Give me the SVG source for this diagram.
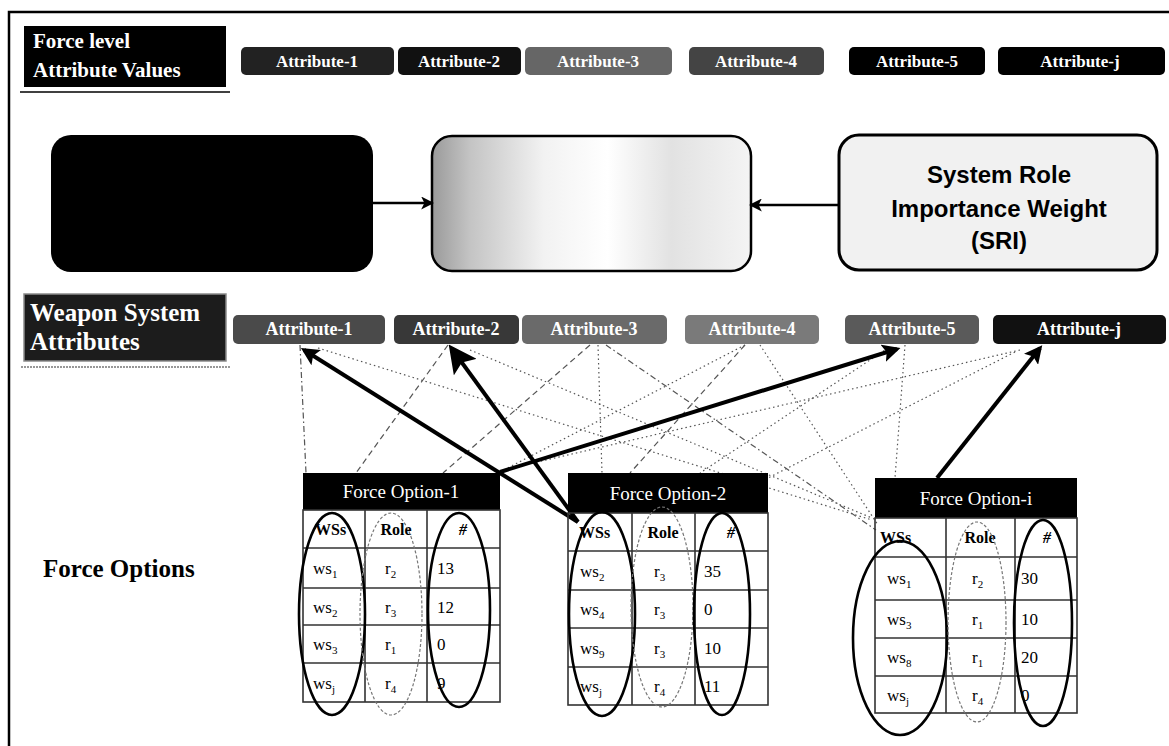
<svg xmlns="http://www.w3.org/2000/svg" width="1169" height="746" viewBox="0 0 1169 746">
  <style>
    .lbl { font-family: "Liberation Serif", "Times New Roman", serif; font-weight: bold; fill: #fff; }
    .pill { rx: 5; ry: 5; }
    .ptxt { font-family: "Liberation Serif", "Times New Roman", serif; font-weight: bold; fill: #fff; text-anchor: middle; }
    .hdr { fill: #000; }
    .htxt { font-family: "Liberation Serif", "Times New Roman", serif; font-size: 19px; fill: #fff; text-anchor: middle; }
    .grid { stroke: #333; stroke-width: 1.6; fill: none; }
    .cell { font-family: "Liberation Serif", "Times New Roman", serif; font-size: 17px; fill: #000; }
    .cellb { font-family: "Liberation Serif", "Times New Roman", serif; font-size: 16px; font-weight: bold; fill: #000; }
    .mid { text-anchor: middle; }
    .sub { font-size: 11px; }
    .ringA { fill: none; stroke: #000; stroke-width: 2.6; }
    .ringB { fill: none; stroke: #777; stroke-width: 1.2; stroke-dasharray: 3 2; }
    .thin { fill: none; stroke: #555; stroke-width: 1.2; }
    .dot { stroke-dasharray: 1.5 3; }
    .dash { stroke-dasharray: 6 4; }
    .dashdot { stroke-dasharray: 6 3 1.5 3; }
    .thick { fill: none; stroke: #000; stroke-width: 4; }
  </style>
  <defs>
    <linearGradient id="fadeGray" x1="0" y1="0" x2="1" y2="0">
      <stop offset="0" stop-color="#9a9a9a"/>
      <stop offset="0.12" stop-color="#c4c4c4"/>
      <stop offset="0.35" stop-color="#f2f2f2"/>
      <stop offset="0.55" stop-color="#ffffff"/>
      <stop offset="0.75" stop-color="#e2e2e2"/>
      <stop offset="1" stop-color="#f4f4f4"/>
    </linearGradient>
    <marker id="headFlow" viewBox="0 0 12 12" refX="10" refY="6" markerWidth="13" markerHeight="13" markerUnits="userSpaceOnUse" orient="auto">
      <path d="M0,0 L12,6 L0,12 L3,6 z" fill="#000"/>
    </marker>
    <marker id="headThick" viewBox="0 0 10 10" refX="8" refY="5" markerWidth="18" markerHeight="18" markerUnits="userSpaceOnUse" orient="auto">
      <path d="M0,0 L10,5 L0,10 L2,5 z" fill="#000"/>
    </marker>
    <marker id="headHuge" viewBox="0 0 10 10" refX="8" refY="5" markerWidth="28" markerHeight="28" markerUnits="userSpaceOnUse" orient="auto">
      <path d="M0,0 L10,5 L0,10 L2,5 z" fill="#000"/>
    </marker>
  </defs>

  <rect width="1169" height="746" fill="#fff"/>

  <!-- frame -->
  <path d="M9,746 L9,12 L1169,12" fill="none" stroke="#000" stroke-width="2.5"/>

  <!-- row labels -->
  <g id="label-force-level">
    <rect x="24" y="26" width="202" height="61" fill="#000"/>
    <text class="lbl" x="33" y="48" font-size="21">Force level</text>
    <text class="lbl" x="33" y="77" font-size="21">Attribute Values</text>
    <line x1="20" y1="92" x2="230" y2="92" stroke="#000" stroke-width="1.5"/>
  </g>
  <g id="label-weapon-system">
    <rect x="24" y="294" width="202" height="67" fill="#1c1c1c" stroke="#8a8a8a" stroke-width="1.5"/>
    <text class="lbl" x="30" y="321" font-size="25">Weapon System</text>
    <text class="lbl" x="30" y="350" font-size="25">Attributes</text>
    <line x1="21" y1="367" x2="230" y2="367" stroke="#777" stroke-width="1.5" stroke-dasharray="2 1"/>
  </g>
  <g id="label-force-options">
    <text x="43" y="577" font-family="Liberation Serif, Times New Roman, serif" font-weight="bold" font-size="25" fill="#000">Force Options</text>
  </g>

  <!-- force level attribute values -->
  <g id="force-attr-1"><rect class="pill" x="241" y="47" width="153" height="28" fill="#222"/><text class="ptxt" x="317" y="67" font-size="17">Attribute-1</text></g>
  <g id="force-attr-2"><rect class="pill" x="398" y="47" width="123" height="28" fill="#111"/><text class="ptxt" x="459" y="67" font-size="17">Attribute-2</text></g>
  <g id="force-attr-3"><rect class="pill" x="525" y="47" width="147" height="28" fill="#666"/><text class="ptxt" x="598" y="67" font-size="17">Attribute-3</text></g>
  <g id="force-attr-4"><rect class="pill" x="689" y="47" width="135" height="28" fill="#444"/><text class="ptxt" x="756" y="67" font-size="17">Attribute-4</text></g>
  <g id="force-attr-5"><rect class="pill" x="849" y="47" width="136" height="28" fill="#000"/><text class="ptxt" x="917" y="67" font-size="17">Attribute-5</text></g>
  <g id="force-attr-j"><rect class="pill" x="998" y="47" width="167" height="28" fill="#000"/><text class="ptxt" x="1080" y="67" font-size="17">Attribute-j</text></g>

  <!-- aggregation boxes -->
  <g id="box-left">
    <rect x="51" y="135" width="322" height="137" rx="20" ry="20" fill="#000"/>
  </g>
  <g id="box-center">
    <rect x="432" y="136" width="319" height="135" rx="20" ry="20" fill="url(#fadeGray)" stroke="#000" stroke-width="2.5"/>
  </g>
  <g id="box-sri">
    <rect x="839" y="135" width="318" height="135" rx="20" ry="20" fill="#f1f1f1" stroke="#000" stroke-width="3"/>
    <g font-family="Liberation Sans, Arial, sans-serif" font-weight="bold" font-size="24" fill="#000" text-anchor="middle">
      <text x="999" y="183">System Role</text>
      <text x="999" y="217">Importance Weight</text>
      <text x="999" y="249">(SRI)</text>
    </g>
  </g>

  <!-- weapon system attributes -->
  <g id="ws-attr-1"><rect class="pill" x="233" y="315" width="152" height="29" fill="#4a4a4a"/><text class="ptxt" x="309" y="335" font-size="18">Attribute-1</text></g>
  <g id="ws-attr-2"><rect class="pill" x="394" y="315" width="125" height="29" fill="#383838"/><text class="ptxt" x="456" y="335" font-size="18">Attribute-2</text></g>
  <g id="ws-attr-3"><rect class="pill" x="522" y="315" width="145" height="29" fill="#6a6a6a"/><text class="ptxt" x="594" y="335" font-size="18">Attribute-3</text></g>
  <g id="ws-attr-4"><rect class="pill" x="685" y="315" width="134" height="29" fill="#7a7a7a"/><text class="ptxt" x="752" y="335" font-size="18">Attribute-4</text></g>
  <g id="ws-attr-5"><rect class="pill" x="845" y="315" width="134" height="29" fill="#5a5a5a"/><text class="ptxt" x="912" y="335" font-size="18">Attribute-5</text></g>
  <g id="ws-attr-j"><rect class="pill" x="993" y="315" width="173" height="29" fill="#111"/><text class="ptxt" x="1079" y="335" font-size="18">Attribute-j</text></g>

  <!-- connectors -->
  <g id="connectors">
    <line x1="373" y1="203" x2="432" y2="203" stroke="#000" stroke-width="2.5" marker-end="url(#headFlow)"/>
    <line x1="839" y1="205" x2="751" y2="205" stroke="#000" stroke-width="2.5" marker-end="url(#headFlow)"/>

    <line class="thin dashdot" x1="300" y1="345" x2="306" y2="473"/>
    <line class="thin dot" x1="318" y1="348" x2="872" y2="520"/>
    <line class="thin dash" x1="448" y1="345" x2="356" y2="473"/>
    <line class="thin dot" x1="470" y1="350" x2="872" y2="518"/>
    <line class="thin dash" x1="590" y1="345" x2="443" y2="473"/>
    <line class="thin dot" x1="598" y1="345" x2="602" y2="473"/>
    <line class="thin dashdot" x1="606" y1="345" x2="876" y2="530"/>
    <line class="thin dot" x1="745" y1="345" x2="498" y2="473"/>
    <line class="thin dash" x1="745" y1="345" x2="630" y2="473"/>
    <line class="thin dot" x1="760" y1="345" x2="878" y2="525"/>
    <line class="thin dot" x1="905" y1="345" x2="895" y2="478"/>
    <line class="thin dot" x1="888" y1="348" x2="700" y2="473"/>
    <line class="thin dot" x1="1020" y1="350" x2="503" y2="470"/>
    <line class="thin dot" x1="1015" y1="352" x2="768" y2="478"/>

    <line class="thick" x1="578" y1="522" x2="304" y2="350" marker-end="url(#headThick)"/>
    <line class="thick" x1="578" y1="522" x2="452" y2="349" stroke-width="6" marker-end="url(#headHuge)"/>
    <line class="thick" x1="500" y1="472" x2="897" y2="349" marker-end="url(#headThick)"/>
    <line class="thick" x1="937" y1="478" x2="1040" y2="348" marker-end="url(#headThick)"/>
  </g>

  <!-- force option 1 -->
  <g id="force-option-1">
    <rect class="hdr" x="303" y="473" width="197" height="37"/>
    <text class="htxt" x="401" y="498">Force Option-1</text>
    <rect class="grid" x="303" y="510" width="197" height="192" fill="#fff"/>
    <path class="grid" d="M365,510 V702 M427,510 V702 M303,548 H500 M303,588 H500 M303,625 H500 M303,663 H500"/>
    <text class="cellb" x="315" y="535">WSs</text>
    <text class="cellb mid" x="396" y="535">Role</text>
    <text class="cellb mid" x="463" y="535" font-style="italic">#</text>
    <text class="cell" x="313" y="574">ws<tspan class="sub" dy="4">1</tspan></text>
    <text class="cell" x="313" y="613">ws<tspan class="sub" dy="4">2</tspan></text>
    <text class="cell" x="313" y="650">ws<tspan class="sub" dy="4">3</tspan></text>
    <text class="cell" x="313" y="689">ws<tspan class="sub" dy="4">j</tspan></text>
    <text class="cell" x="385" y="574">r<tspan class="sub" dy="4">2</tspan></text>
    <text class="cell" x="385" y="613">r<tspan class="sub" dy="4">3</tspan></text>
    <text class="cell" x="385" y="650">r<tspan class="sub" dy="4">1</tspan></text>
    <text class="cell" x="385" y="689">r<tspan class="sub" dy="4">4</tspan></text>
    <text class="cell" x="437" y="574">13</text>
    <text class="cell" x="437" y="613">12</text>
    <text class="cell" x="437" y="650">0</text>
    <text class="cell" x="437" y="689">9</text>
    <ellipse class="ringA" cx="332" cy="614" rx="33" ry="101"/>
    <ellipse class="ringB" cx="391" cy="614" rx="31" ry="101"/>
    <ellipse class="ringA" cx="459" cy="610" rx="31" ry="97"/>
  </g>

  <!-- force option 2 -->
  <g id="force-option-2">
    <rect class="hdr" x="568" y="473" width="200" height="40"/>
    <text class="htxt" x="668" y="500">Force Option-2</text>
    <rect class="grid" x="568" y="513" width="200" height="192" fill="#fff"/>
    <path class="grid" d="M632,513 V705 M695,513 V705 M568,551 H768 M568,590 H768 M568,628 H768 M568,667 H768"/>
    <text class="cellb" x="579" y="538">WSs</text>
    <text class="cellb mid" x="663" y="538">Role</text>
    <text class="cellb mid" x="731" y="538" font-style="italic">#</text>
    <text class="cell" x="580" y="577">ws<tspan class="sub" dy="4">2</tspan></text>
    <text class="cell" x="580" y="615">ws<tspan class="sub" dy="4">4</tspan></text>
    <text class="cell" x="580" y="654">ws<tspan class="sub" dy="4">9</tspan></text>
    <text class="cell" x="580" y="692">ws<tspan class="sub" dy="4">j</tspan></text>
    <text class="cell" x="654" y="577">r<tspan class="sub" dy="4">3</tspan></text>
    <text class="cell" x="654" y="615">r<tspan class="sub" dy="4">3</tspan></text>
    <text class="cell" x="654" y="654">r<tspan class="sub" dy="4">3</tspan></text>
    <text class="cell" x="654" y="692">r<tspan class="sub" dy="4">4</tspan></text>
    <text class="cell" x="704" y="577">35</text>
    <text class="cell" x="704" y="615">0</text>
    <text class="cell" x="704" y="654">10</text>
    <text class="cell" x="704" y="692">11</text>
    <ellipse class="ringA" cx="602" cy="614" rx="33" ry="102"/>
    <ellipse class="ringB" cx="662" cy="607" rx="31" ry="100"/>
    <ellipse class="ringA" cx="722" cy="614" rx="28" ry="101"/>
  </g>

  <!-- force option i -->
  <g id="force-option-i">
    <rect class="hdr" x="875" y="478" width="202" height="40"/>
    <text class="htxt" x="976" y="505">Force Option-i</text>
    <rect class="grid" x="875" y="518" width="202" height="195" fill="#fff"/>
    <path class="grid" d="M946,518 V713 M1015,518 V713 M875,557 H1077 M875,600 H1077 M875,638 H1077 M875,676 H1077"/>
    <text class="cellb" x="880" y="543">WSs</text>
    <text class="cellb mid" x="980" y="543">Role</text>
    <text class="cellb mid" x="1047" y="543" font-style="italic">#</text>
    <text class="cell" x="887" y="584">ws<tspan class="sub" dy="4">1</tspan></text>
    <text class="cell" x="887" y="625">ws<tspan class="sub" dy="4">3</tspan></text>
    <text class="cell" x="887" y="663">ws<tspan class="sub" dy="4">8</tspan></text>
    <text class="cell" x="887" y="701">ws<tspan class="sub" dy="4">j</tspan></text>
    <text class="cell" x="972" y="584">r<tspan class="sub" dy="4">2</tspan></text>
    <text class="cell" x="972" y="625">r<tspan class="sub" dy="4">1</tspan></text>
    <text class="cell" x="972" y="663">r<tspan class="sub" dy="4">1</tspan></text>
    <text class="cell" x="972" y="701">r<tspan class="sub" dy="4">4</tspan></text>
    <text class="cell" x="1021" y="584">30</text>
    <text class="cell" x="1021" y="625">10</text>
    <text class="cell" x="1021" y="663">20</text>
    <text class="cell" x="1021" y="701">0</text>
    <ellipse class="ringA" cx="900" cy="638" rx="47" ry="97"/>
    <ellipse class="ringB" cx="977" cy="622" rx="29" ry="100"/>
    <ellipse class="ringA" cx="1043" cy="623" rx="29" ry="103"/>
  </g>
</svg>
